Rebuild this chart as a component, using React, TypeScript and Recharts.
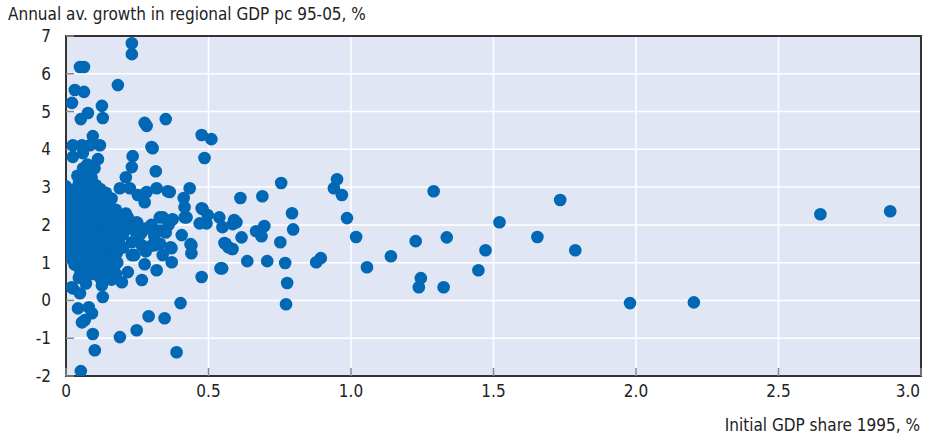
import React from "react";
import { ScatterChart, Scatter, XAxis, YAxis, CartesianGrid, ReferenceArea } from "recharts";

// Dense cluster of small regions (x: initial GDP share %, y: growth %)
const clusterX = [
  0.0, 0.01, 0.005, 0.0, 0.01, 0.0, 0.005, 0.01, 0.0, 0.015, 0.01, 0.02, 0.02, 0.02, 0.025, 0.03, 0.03, 0.03, 0.035, 0.035, 0.02,
  0.04, 0.045, 0.04, 0.05, 0.045, 0.05, 0.04, 0.05, 0.045, 0.05, 0.04, 0.05, 0.045, 0.06, 0.065, 0.06, 0.065, 0.06, 0.07, 0.06, 0.065, 0.07, 0.06, 0.07, 0.065, 0.06,
  0.075, 0.08, 0.075, 0.08, 0.075, 0.08, 0.075, 0.08, 0.075, 0.08, 0.075, 0.08, 0.07,
  0.09, 0.095, 0.09, 0.1, 0.09, 0.1, 0.09, 0.1, 0.09, 0.1, 0.095, 0.1, 0.105, 0.11, 0.11, 0.115, 0.11, 0.115, 0.11, 0.12, 0.115,
  0.12, 0.125, 0.13, 0.125, 0.13, 0.125, 0.13, 0.135, 0.12,
  0.14, 0.145, 0.15, 0.14, 0.15, 0.145, 0.15, 0.155, 0.14, 0.15, 0.16, 0.165, 0.17, 0.165, 0.17, 0.175, 0.18, 0.185, 0.19, 0.195, 0.2, 0.2, 0.18, 0.175, 0.16,
];
const clusterY = [
  3.02, 2.85, 2.6, 2.3, 2.15, 2.0, 1.85, 1.7, 1.55, 1.4, 1.25, 1.1, 2.45, 2.7, 1.95, 2.2, 1.6, 0.95, 2.95, 1.3, 0.35,
  3.3, 3.1, 2.8, 2.6, 2.35, 2.1, 1.9, 1.75, 1.5, 1.2, 1.0, 0.8, 0.6, 3.5, 3.25, 2.95, 2.75, 2.5, 2.3, 2.05, 1.85, 1.6, 1.4, 1.15, 0.9, 0.7,
  3.6, 3.35, 3.0, 2.7, 2.45, 2.2, 1.95, 1.75, 1.5, 1.3, 1.05, 0.85, 0.45,
  3.25, 2.95, 2.6, 2.4, 2.15, 1.95, 1.7, 1.45, 1.2, 0.95, 0.7, 3.5, 3.05, 2.8, 2.25, 2.05, 1.8, 1.55, 1.3, 1.05, 0.8,
  2.95, 2.6, 2.35, 2.1, 1.9, 1.65, 1.4, 1.15, 0.6,
  2.85, 2.55, 2.3, 2.1, 1.95, 1.7, 1.45, 1.2, 0.95, 0.75, 2.7, 2.15, 1.85, 1.55, 1.3, 2.4, 2.0, 1.6, 2.25, 1.9, 2.1, 1.75, 1.0, 0.7, 0.55,
];

// Upper and lower outliers near the y axis
const edgeX = [
  0.231, 0.231, 0.049, 0.063, 0.182, 0.031, 0.063, 0.021, 0.126, 0.077, 0.052, 0.129, 0.276, 0.283, 0.35, 0.094, 0.024, 0.056, 0.084, 0.119, 0.3,
  0.476, 0.51, 0.486, 0.234, 0.231, 0.21, 0.315, 0.304, 0.024, 0.059, 0.112,
  0.052, 0.101, 0.388, 0.094, 0.189, 0.248, 0.29, 0.346, 0.402, 0.056, 0.066, 0.042, 0.08, 0.091, 0.049, 0.024, 0.129, 0.126, 0.196,
];
const edgeY = [
  6.81, 6.52, 6.18, 6.18, 5.7, 5.57, 5.52, 5.23, 5.15, 4.96, 4.8, 4.83, 4.7, 4.62, 4.8, 4.35, 4.11, 4.11, 4.11, 4.11, 4.06,
  4.38, 4.27, 3.77, 3.82, 3.53, 3.26, 3.42, 4.03, 3.8, 3.9, 3.74,
  -1.87, -1.32, -1.37, -0.89, -0.97, -0.79, -0.42, -0.47, -0.07, -0.58, -0.52, -0.21, -0.18, -0.34, 0.19, 0.32, 0.09, 0.4, 0.48,
];

// Mid-size regions
const midX = [
  0.189, 0.224, 0.252, 0.276, 0.283, 0.318, 0.357, 0.434, 0.413, 0.416, 0.476, 0.497, 0.416, 0.329, 0.371, 0.469, 0.294, 0.266, 0.406,
  0.266, 0.311, 0.367, 0.44, 0.44, 0.339, 0.371, 0.231, 0.276, 0.318, 0.266, 0.476, 0.217, 0.171, 0.217, 0.248, 0.231, 0.178,
  0.364, 0.374, 0.423, 0.479, 0.493, 0.437, 0.37, 0.542, 0.21, 0.22, 0.24, 0.25, 0.26, 0.28, 0.3, 0.31, 0.33, 0.34, 0.35, 0.36, 0.2, 0.3, 0.24, 0.28, 0.33,
];
const midY = [
  2.97, 2.97, 2.79, 2.6, 2.87, 2.97, 2.89, 2.97, 2.71, 2.47, 2.44, 2.26, 2.2, 2.2, 2.13, 2.04, 1.94, 1.81, 1.73,
  1.46, 1.46, 1.41, 1.46, 1.25, 1.2, 1.01, 1.2, 0.96, 0.8, 0.54, 0.62, 0.75, 0.93, 2.2, 2.07, 1.54, 1.25,
  2.87, 2.15, 2.2, 2.42, 2.04, 1.49, 1.38, 0.85, 2.3, 1.95, 1.85, 2.05, 1.75, 1.9, 2.0, 1.7, 1.85, 2.2, 1.8, 2.0, 1.4, 1.45, 1.2, 1.3, 1.5,
];

// Larger regions
const largeX = [
  0.755, 0.612, 0.689, 0.538, 0.549, 0.59, 0.585, 0.616, 0.56, 0.583, 0.667, 0.686, 0.696, 0.793, 0.797, 0.752, 0.548, 0.636, 0.706, 0.769,
  0.776, 0.772, 0.878, 0.894, 0.951, 0.94, 0.968, 0.986, 1.018, 1.056, 1.14, 1.227, 1.29, 1.336, 1.245, 1.238, 1.325,
  1.447, 1.472, 1.521, 1.654, 1.734, 1.787, 1.979, 2.203, 2.647, 2.892, 0.556, 0.57, 0.584, 0.598,
];
const largeY = [
  3.11, 2.71, 2.76, 2.2, 1.94, 2.13, 2.02, 1.67, 1.5, 1.36, 1.83, 1.7, 1.97, 2.31, 1.88, 1.54, 0.85, 1.04, 1.04, 0.99,
  0.46, -0.1, 1.01, 1.12, 3.21, 2.97, 2.79, 2.18, 1.68, 0.88, 1.17, 1.57, 2.89, 1.67, 0.59, 0.35, 0.35,
  0.8, 1.33, 2.07, 1.68, 2.66, 1.33, -0.07, -0.05, 2.28, 2.36, 1.52, 1.41, 1.36, 2.07,
];

const xTicks = [0, 0.5, 1.0, 1.5, 2.0, 2.5, 3.0];
const yTicks = [-2, -1, 0, 1, 2, 3, 4, 5, 6, 7];

const yTitle = "Annual av. growth in regional GDP pc 95-05, %";
const xTitle = "Initial GDP share 1995, %";

const zip = (xs: number[], ys: number[]) => xs.map((x, i) => ({ x, y: ys[i] }));
const data = [
  ...zip(clusterX, clusterY),
  ...zip(edgeX, edgeY),
  ...zip(midX, midY),
  ...zip(largeX, largeY),
];

const FONT = "'Liberation Sans Narrow', 'DejaVu Sans Condensed', 'Roboto Condensed', Roboto, sans-serif";
const BLUE = "#0068b4";

const Dot = (p: any) => <circle cx={p.cx} cy={p.cy} r={6.3} fill={BLUE} />;

const XTick = (p: any) => {
  const v = p.payload.value as number;
  const label = v === 0 ? "0" : v.toFixed(1);
  const isLast = v === xTicks[xTicks.length - 1];
  return (
    <text
      x={isLast ? 920 : p.x}
      y={p.y}
      dy="0.71em"
      textAnchor={isLast ? "end" : "middle"}
      fill="#222"
      fontSize={17}
      fontFamily={FONT}
    >
      {label}
    </text>
  );
};

export default function App() {
  return (
    <div style={{ position: "absolute", left: 0, top: 0, width: 926, height: 437, background: "#fff", fontFamily: FONT }}>
      <div style={{ position: "absolute", left: 8, top: 6, fontSize: 17, lineHeight: "17px", color: "#222", whiteSpace: "nowrap" }}>
        {yTitle}
      </div>
      <div style={{ position: "absolute", left: 0, width: 920, top: 417, textAlign: "right", fontSize: 17, lineHeight: "17px", color: "#222", whiteSpace: "nowrap" }}>
        {xTitle}
      </div>
      <ScatterChart width={926} height={437} margin={{ top: 36, right: 5, bottom: 31, left: 10 }}>
        <CartesianGrid fill="#e0e6f3" stroke="#ffffff" strokeWidth={1.5} />
        <XAxis
          type="number"
          dataKey="x"
          domain={[0, 3]}
          ticks={xTicks}
          axisLine={false}
          tickLine={{ stroke: "#888", strokeWidth: 1.5 }}
          tickSize={-8}
          tickMargin={17}
          height={30}
          tick={XTick}
          allowDataOverflow
        />
        <YAxis
          type="number"
          dataKey="y"
          domain={[-2, 7]}
          ticks={yTicks}
          axisLine={false}
          tickLine={{ stroke: "#888", strokeWidth: 1.5 }}
          tickSize={-8}
          tickMargin={23}
          width={56}
          tick={{ fill: "#222", fontSize: 17, fontFamily: FONT }}
          allowDataOverflow
        />
        <ReferenceArea x1={0} x2={3} y1={-2} y2={7} fill="none" stroke="#333" strokeWidth={2} fillOpacity={0} />
        <Scatter data={data} fill={BLUE} shape={Dot} isAnimationActive={false} />
      </ScatterChart>
    </div>
  );
}
